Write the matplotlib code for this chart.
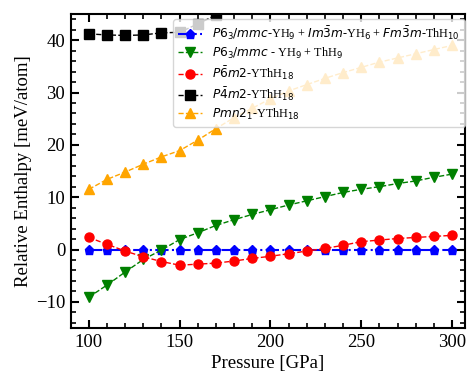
import numpy as np
import matplotlib
matplotlib.use("Agg")
import matplotlib.pyplot as plt
from matplotlib.ticker import MultipleLocator

plt.rcParams['font.family'] = ['Liberation Serif', 'DejaVu Serif']
plt.rcParams['mathtext.fontset'] = 'dejavusans'

pressure = [100, 110, 120, 130, 140, 150, 160, 170, 180, 190, 200,
            210, 220, 230, 240, 250, 260, 270, 280, 290, 300]

ref_mix = [0.0] * 21
yh9_thh9 = [-9.1, -6.8, -4.3, -1.9, -0.1, 1.9, 3.2, 4.6, 5.7, 6.7, 7.6,
            8.5, 9.3, 10.1, 10.9, 11.5, 12.0, 12.6, 13.1, 13.8, 14.4]
p6m2 = [2.3, 1.0, -0.3, -1.4, -2.3, -3.0, -2.8, -2.6, -2.2, -1.7, -1.3,
        -0.8, -0.3, 0.2, 0.8, 1.5, 1.8, 2.1, 2.3, 2.5, 2.7]
p4m2_pressure = [100, 110, 120, 130, 140, 150, 160, 170]
p4m2 = [41.2, 41.0, 40.9, 41.0, 41.4, 41.5, 43.1, 44.8]
pmn21 = [11.5, 13.4, 14.8, 16.3, 17.7, 18.9, 20.9, 23.1, 25.2, 27.0, 28.8,
         30.3, 31.5, 32.7, 33.8, 34.8, 35.8, 36.6, 37.4, 38.2, 39.0]

labels = [
    r'$P6_3/mmc$-YH$_9$ + $Im\bar{3}m$-YH$_6$ + $Fm\bar{3}m$-ThH$_{10}$',
    r'$P6_3/mmc$ - YH$_9$ + ThH$_9$',
    r'$P\bar{6}m2$-YThH$_{18}$',
    r'$P\bar{4}m2$-YThH$_{18}$',
    r'$Pmn2_1$-YThH$_{18}$',
]

fig = plt.figure(figsize=(4.68, 3.72), dpi=100)
ax = fig.add_axes([70.7/468, 1 - 328/372, (464.7-70.7)/468, (328-14)/372])

ax.plot(pressure, ref_mix, '-.', color='blue', marker='p', ms=6.5, lw=1.5, label=labels[0])
ax.plot(pressure, yh9_thh9, '--', color='green', marker='v', ms=6.5, lw=1.0, label=labels[1])
ax.plot(pressure, p6m2, '--', color='red', marker='o', ms=6.5, lw=1.0, label=labels[2])
ax.plot(p4m2_pressure, p4m2, '--', color='black', marker='s', ms=6.5, lw=1.0, label=labels[3])
ax.plot(pressure, pmn21, '--', color='orange', marker='^', ms=6.5, lw=1.0, label=labels[4])

ax.set_xlim(90, 307)
ax.set_ylim(-15, 45)
ax.xaxis.set_major_locator(MultipleLocator(50))
ax.xaxis.set_minor_locator(MultipleLocator(10))
ax.yaxis.set_major_locator(MultipleLocator(10))
ax.yaxis.set_minor_locator(MultipleLocator(2))
ax.tick_params(which='both', direction='in', top=True, right=True, labelsize=13.5)
ax.tick_params(which='major', length=6, width=1.5, pad=4)
ax.tick_params(which='minor', length=3.5, width=1.2)
for s in ax.spines.values():
    s.set_linewidth(1.5)

ax.set_xlabel('Pressure [GPa]', fontsize=13.5, labelpad=3)
ax.set_ylabel('Relative Enthalpy [meV/atom]', fontsize=13.5, labelpad=3)

ax.legend(loc='upper right', bbox_to_anchor=(1.012, 0.998), fontsize=8.75,
          framealpha=0.8, borderaxespad=0.4, labelspacing=0.3)

fig.savefig('out.png', dpi=100)
